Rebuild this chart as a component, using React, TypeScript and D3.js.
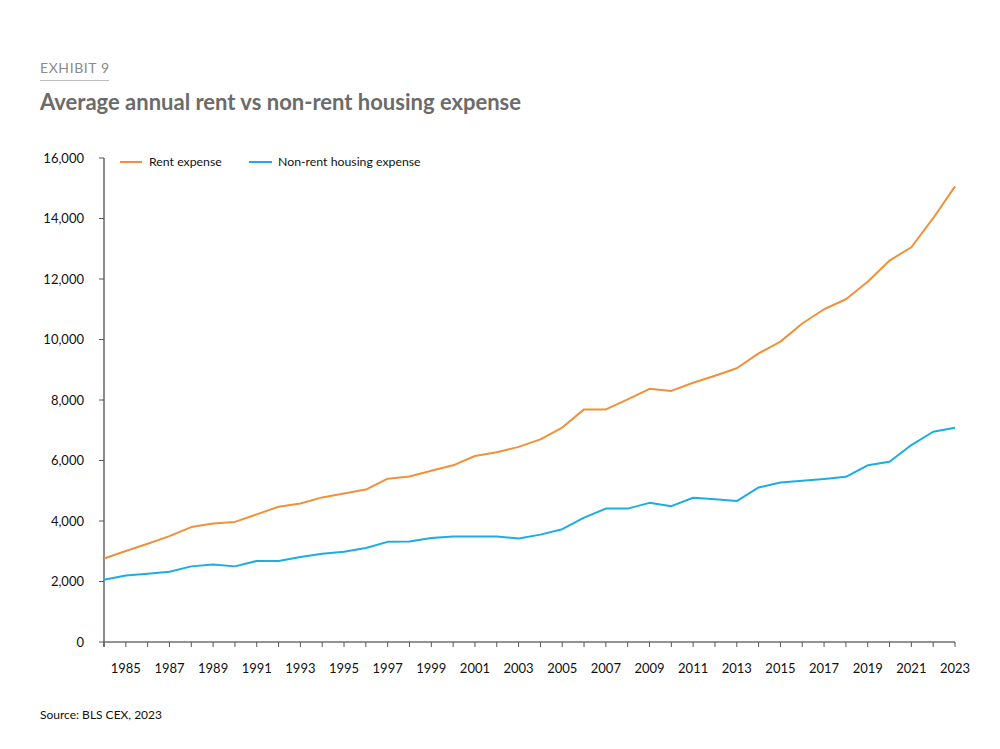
import React from "react";
import * as d3 from "d3";

const years: number[] = [
  1984, 1985, 1986, 1987, 1988, 1989, 1990, 1991, 1992, 1993, 1994, 1995, 1996,
  1997, 1998, 1999, 2000, 2001, 2002, 2003, 2004, 2005, 2006, 2007, 2008, 2009,
  2010, 2011, 2012, 2013, 2014, 2015, 2016, 2017, 2018, 2019, 2020, 2021, 2022, 2023,
];

const rentExpense: number[] = [
  2760, 3010, 3250, 3500, 3800, 3920, 3970, 4220, 4470, 4580, 4780, 4910, 5040,
  5400, 5470, 5660, 5840, 6150, 6270, 6450, 6700, 7090, 7690, 7690, 8020, 8370,
  8300, 8570, 8800, 9050, 9540, 9930, 10530, 11000, 11330, 11910, 12610, 13050, 14010, 15060,
];

const nonRentExpense: number[] = [
  2060, 2200, 2260, 2320, 2500, 2560, 2500, 2680, 2680, 2810, 2920, 2980, 3110,
  3310, 3320, 3440, 3490, 3490, 3490, 3420, 3550, 3730, 4110, 4410, 4410, 4600,
  4490, 4770, 4720, 4660, 5110, 5270, 5330, 5390, 5460, 5840, 5960, 6510, 6950, 7080,
];

const yTicks: number[] = [0, 2000, 4000, 6000, 8000, 10000, 12000, 14000, 16000];
const xLabelYears: number[] = years.filter((y) => y % 2 === 1);

const seriesNames: string[] = ["Rent expense", "Non-rent housing expense"];
const seriesColors: string[] = ["#F0913A", "#1BADE3"];

const FONT = "Lato, 'Open Sans', sans-serif";

export default function App() {
  const W = 1000;
  const H = 749;
  const left = 104;
  const right = 955;
  const top = 158;
  const bottom = 642;

  const x = d3.scaleLinear().domain([1984, 2023]).range([left, right]);
  const y = d3.scaleLinear().domain([0, 16000]).range([bottom, top]);

  const line = d3
    .line<number>()
    .x((_, i) => x(years[i]))
    .y((d) => y(d));

  const series = [rentExpense, nonRentExpense];

  return (
    <svg
      width={W}
      height={H}
      style={{ position: "absolute", left: 0, top: 0, background: "#fff" }}
      fontFamily={FONT}
    >
      <rect x={0} y={0} width={W} height={H} fill="#fff" />
      <text x={40} y={73} fontSize={14} fill="#8a8a8a" letterSpacing={0.6}>
        EXHIBIT 9
      </text>
      <line x1={40} x2={109} y1={80.5} y2={80.5} stroke="#bdbdbd" strokeWidth={1} />
      <text x={40} y={110} fontSize={22} fontWeight={700} fill="#6b6b6b">
        Average annual rent vs non-rent housing expense
      </text>

      {/* Y axis */}
      <line x1={left} x2={left} y1={top} y2={bottom + 5} stroke="#6f6f6f" strokeWidth={1.6} />
      {yTicks.map((t) => (
        <g key={t}>
          <line x1={left - 5} x2={left} y1={y(t)} y2={y(t)} stroke="#555" strokeWidth={1} />
          <text
            x={84}
            y={y(t)}
            dy="0.35em"
            textAnchor="end"
            fontSize={13}
            fill="#111"
          >
            {d3.format(",")(t)}
          </text>
        </g>
      ))}

      {/* X axis */}
      <line x1={left} x2={right} y1={bottom} y2={bottom} stroke="#6f6f6f" strokeWidth={1.6} />
      {years.map((yr) => (
        <line
          key={yr}
          x1={x(yr)}
          x2={x(yr)}
          y1={bottom}
          y2={bottom + 5}
          stroke="#555"
          strokeWidth={1}
        />
      ))}
      {xLabelYears.map((yr) => (
        <text
          key={yr}
          x={x(yr)}
          y={673}
          textAnchor="middle"
          fontSize={13}
          fill="#111"
        >
          {yr}
        </text>
      ))}

      {/* Lines */}
      {series.map((s, i) => (
        <path
          key={i}
          d={line(s) || ""}
          fill="none"
          stroke={seriesColors[i]}
          strokeWidth={2}
          strokeLinejoin="round"
        />
      ))}

      {/* Legend */}
      <line x1={120} x2={142} y1={162} y2={162} stroke={seriesColors[0]} strokeWidth={2} />
      <text x={149} y={162} dy="0.35em" fontSize={12.3} fill="#111">
        {seriesNames[0]}
      </text>
      <line x1={249} x2={272} y1={162} y2={162} stroke={seriesColors[1]} strokeWidth={2} />
      <text x={278} y={162} dy="0.35em" fontSize={12.3} fill="#111">
        {seriesNames[1]}
      </text>

      <text x={40} y={719} fontSize={12} fill="#111">
        Source: BLS CEX, 2023
      </text>
    </svg>
  );
}
